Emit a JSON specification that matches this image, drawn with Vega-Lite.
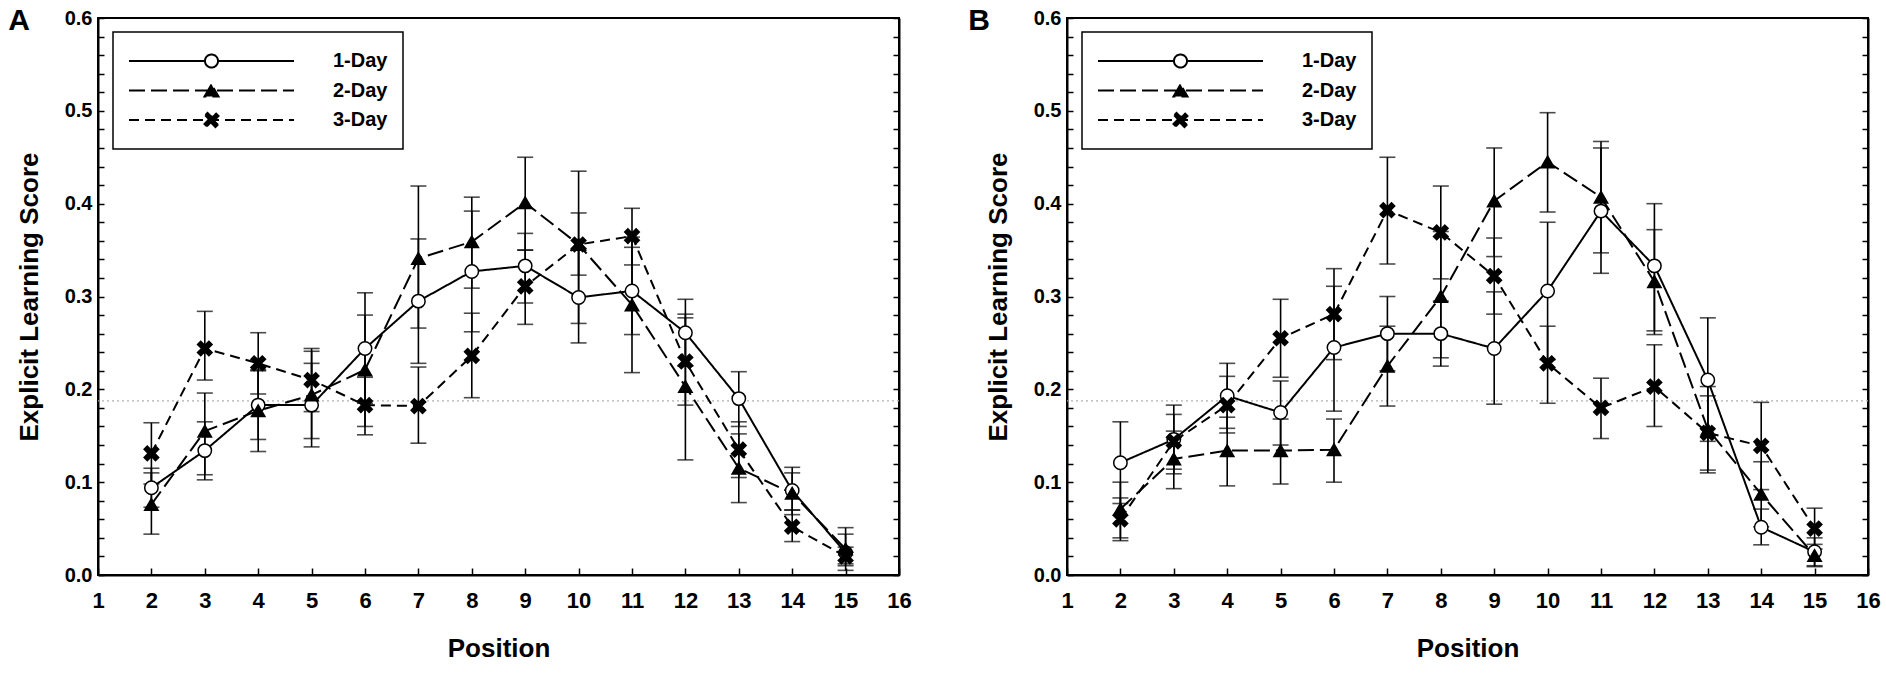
{
  "$schema": "https://vega.github.io/schema/vega-lite/v6.json",
  "padding": {"left": 7, "top": 5, "right": 0, "bottom": 0},
  "background": "white",
  "config": {
    "view": {"stroke": "black", "strokeWidth": 2},
    "axis": {
      "domainColor": "black", "domainWidth": 2, "tickColor": "black", "tickWidth": 1.5,
      "grid": false, "labelFont": "Liberation Sans", "labelFontWeight": "bold", "labelColor": "black",
      "titleFont": "Liberation Sans", "titleFontWeight": "bold", "titleFontSize": 26, "titleColor": "black",
      "labelOverlap": false, "labelFlush": false, "labelBound": false
    },
    "axisX": {"tickSize": -7, "labelPadding": 22, "labelFontSize": 22, "titlePadding": 24},
    "axisY": {"tickSize": -6, "labelPadding": 12, "labelFontSize": 20, "titlePadding": 22},
    "legend": {
      "orient": "none", "legendX": 15, "legendY": 14, "padding": 15,
      "strokeColor": "black", "strokeWidth": 1.5, "fillColor": "white",
      "labelFont": "Liberation Sans", "labelFontSize": 20, "labelFontWeight": "bold", "labelColor": "black",
      "labelOffset": 38, "rowPadding": 1.5, "symbolSize": 27225, "symbolStrokeWidth": 2,
      "symbolStrokeColor": "black", "clipHeight": 28
    }
  },
  "datasets": {
    "chance": [{"level": 0.1875}],
    "panelA": [
      {"group": "1-Day", "pos": 2, "mean": 0.094, "lo": 0.073, "hi": 0.115},
      {"group": "1-Day", "pos": 3, "mean": 0.134, "lo": 0.1025, "hi": 0.165},
      {"group": "1-Day", "pos": 4, "mean": 0.183, "lo": 0.146, "hi": 0.22},
      {"group": "1-Day", "pos": 5, "mean": 0.183, "lo": 0.138, "hi": 0.228},
      {"group": "1-Day", "pos": 6, "mean": 0.244, "lo": 0.185, "hi": 0.304},
      {"group": "1-Day", "pos": 7, "mean": 0.295, "lo": 0.228, "hi": 0.362},
      {"group": "1-Day", "pos": 8, "mean": 0.327, "lo": 0.262, "hi": 0.392},
      {"group": "1-Day", "pos": 9, "mean": 0.333, "lo": 0.293, "hi": 0.368},
      {"group": "1-Day", "pos": 10, "mean": 0.299, "lo": 0.25, "hi": 0.35},
      {"group": "1-Day", "pos": 11, "mean": 0.306, "lo": 0.259, "hi": 0.353},
      {"group": "1-Day", "pos": 12, "mean": 0.261, "lo": 0.225, "hi": 0.297},
      {"group": "1-Day", "pos": 13, "mean": 0.19, "lo": 0.16, "hi": 0.219},
      {"group": "1-Day", "pos": 14, "mean": 0.091, "lo": 0.065, "hi": 0.116},
      {"group": "1-Day", "pos": 15, "mean": 0.024, "lo": 0.005, "hi": 0.051},
      {"group": "2-Day", "pos": 2, "mean": 0.076, "lo": 0.044, "hi": 0.11},
      {"group": "2-Day", "pos": 3, "mean": 0.155, "lo": 0.108, "hi": 0.196},
      {"group": "2-Day", "pos": 4, "mean": 0.177, "lo": 0.133, "hi": 0.221},
      {"group": "2-Day", "pos": 5, "mean": 0.194, "lo": 0.147, "hi": 0.241},
      {"group": "2-Day", "pos": 6, "mean": 0.221, "lo": 0.16, "hi": 0.28},
      {"group": "2-Day", "pos": 7, "mean": 0.341, "lo": 0.266, "hi": 0.419},
      {"group": "2-Day", "pos": 8, "mean": 0.359, "lo": 0.309, "hi": 0.407},
      {"group": "2-Day", "pos": 9, "mean": 0.401, "lo": 0.35, "hi": 0.45},
      {"group": "2-Day", "pos": 10, "mean": 0.356, "lo": 0.323, "hi": 0.39},
      {"group": "2-Day", "pos": 11, "mean": 0.291, "lo": 0.218, "hi": 0.364},
      {"group": "2-Day", "pos": 12, "mean": 0.203, "lo": 0.124, "hi": 0.281},
      {"group": "2-Day", "pos": 13, "mean": 0.115, "lo": 0.078, "hi": 0.152},
      {"group": "2-Day", "pos": 14, "mean": 0.088, "lo": 0.07, "hi": 0.11},
      {"group": "2-Day", "pos": 15, "mean": 0.028, "lo": 0.012, "hi": 0.044},
      {"group": "3-Day", "pos": 2, "mean": 0.131, "lo": 0.098, "hi": 0.164},
      {"group": "3-Day", "pos": 3, "mean": 0.244, "lo": 0.21, "hi": 0.284},
      {"group": "3-Day", "pos": 4, "mean": 0.228, "lo": 0.195, "hi": 0.261},
      {"group": "3-Day", "pos": 5, "mean": 0.21, "lo": 0.176, "hi": 0.244},
      {"group": "3-Day", "pos": 6, "mean": 0.183, "lo": 0.151, "hi": 0.213},
      {"group": "3-Day", "pos": 7, "mean": 0.182, "lo": 0.142, "hi": 0.224},
      {"group": "3-Day", "pos": 8, "mean": 0.236, "lo": 0.191, "hi": 0.282},
      {"group": "3-Day", "pos": 9, "mean": 0.311, "lo": 0.27, "hi": 0.35},
      {"group": "3-Day", "pos": 10, "mean": 0.356, "lo": 0.271, "hi": 0.435},
      {"group": "3-Day", "pos": 11, "mean": 0.365, "lo": 0.334, "hi": 0.395},
      {"group": "3-Day", "pos": 12, "mean": 0.23, "lo": 0.183, "hi": 0.277},
      {"group": "3-Day", "pos": 13, "mean": 0.135, "lo": 0.105, "hi": 0.165},
      {"group": "3-Day", "pos": 14, "mean": 0.052, "lo": 0.036, "hi": 0.07},
      {"group": "3-Day", "pos": 15, "mean": 0.02, "lo": 0.01, "hi": 0.03}
    ],
    "panelB": [
      {"group": "1-Day", "pos": 2, "mean": 0.121, "lo": 0.077, "hi": 0.165},
      {"group": "1-Day", "pos": 3, "mean": 0.146, "lo": 0.109, "hi": 0.183},
      {"group": "1-Day", "pos": 4, "mean": 0.193, "lo": 0.158, "hi": 0.228},
      {"group": "1-Day", "pos": 5, "mean": 0.175, "lo": 0.14, "hi": 0.209},
      {"group": "1-Day", "pos": 6, "mean": 0.245, "lo": 0.1765, "hi": 0.311},
      {"group": "1-Day", "pos": 7, "mean": 0.26, "lo": 0.22, "hi": 0.3},
      {"group": "1-Day", "pos": 8, "mean": 0.26, "lo": 0.225, "hi": 0.295},
      {"group": "1-Day", "pos": 9, "mean": 0.244, "lo": 0.184, "hi": 0.305},
      {"group": "1-Day", "pos": 10, "mean": 0.306, "lo": 0.232, "hi": 0.38},
      {"group": "1-Day", "pos": 11, "mean": 0.392, "lo": 0.325, "hi": 0.46},
      {"group": "1-Day", "pos": 12, "mean": 0.333, "lo": 0.263, "hi": 0.4},
      {"group": "1-Day", "pos": 13, "mean": 0.21, "lo": 0.144, "hi": 0.277},
      {"group": "1-Day", "pos": 14, "mean": 0.0515, "lo": 0.0325, "hi": 0.071},
      {"group": "1-Day", "pos": 15, "mean": 0.025, "lo": 0.01, "hi": 0.04},
      {"group": "2-Day", "pos": 2, "mean": 0.071, "lo": 0.04, "hi": 0.1},
      {"group": "2-Day", "pos": 3, "mean": 0.125, "lo": 0.093, "hi": 0.155},
      {"group": "2-Day", "pos": 4, "mean": 0.134, "lo": 0.096, "hi": 0.17},
      {"group": "2-Day", "pos": 5, "mean": 0.134, "lo": 0.098, "hi": 0.168},
      {"group": "2-Day", "pos": 6, "mean": 0.135, "lo": 0.1, "hi": 0.168},
      {"group": "2-Day", "pos": 7, "mean": 0.225, "lo": 0.182, "hi": 0.268},
      {"group": "2-Day", "pos": 8, "mean": 0.3, "lo": 0.234, "hi": 0.37},
      {"group": "2-Day", "pos": 9, "mean": 0.403, "lo": 0.343, "hi": 0.46},
      {"group": "2-Day", "pos": 10, "mean": 0.445, "lo": 0.391, "hi": 0.498},
      {"group": "2-Day", "pos": 11, "mean": 0.407, "lo": 0.347, "hi": 0.467},
      {"group": "2-Day", "pos": 12, "mean": 0.316, "lo": 0.259, "hi": 0.372},
      {"group": "2-Day", "pos": 13, "mean": 0.157, "lo": 0.11, "hi": 0.203},
      {"group": "2-Day", "pos": 14, "mean": 0.087, "lo": 0.052, "hi": 0.122},
      {"group": "2-Day", "pos": 15, "mean": 0.021, "lo": 0.009, "hi": 0.033},
      {"group": "3-Day", "pos": 2, "mean": 0.06, "lo": 0.037, "hi": 0.083},
      {"group": "3-Day", "pos": 3, "mean": 0.144, "lo": 0.114, "hi": 0.173},
      {"group": "3-Day", "pos": 4, "mean": 0.183, "lo": 0.153, "hi": 0.214},
      {"group": "3-Day", "pos": 5, "mean": 0.255, "lo": 0.213, "hi": 0.297},
      {"group": "3-Day", "pos": 6, "mean": 0.281, "lo": 0.232, "hi": 0.33},
      {"group": "3-Day", "pos": 7, "mean": 0.393, "lo": 0.335, "hi": 0.45},
      {"group": "3-Day", "pos": 8, "mean": 0.369, "lo": 0.319, "hi": 0.419},
      {"group": "3-Day", "pos": 9, "mean": 0.322, "lo": 0.281, "hi": 0.363},
      {"group": "3-Day", "pos": 10, "mean": 0.228, "lo": 0.185, "hi": 0.268},
      {"group": "3-Day", "pos": 11, "mean": 0.18, "lo": 0.147, "hi": 0.212},
      {"group": "3-Day", "pos": 12, "mean": 0.203, "lo": 0.16, "hi": 0.248},
      {"group": "3-Day", "pos": 13, "mean": 0.153, "lo": 0.113, "hi": 0.193},
      {"group": "3-Day", "pos": 14, "mean": 0.139, "lo": 0.092, "hi": 0.186},
      {"group": "3-Day", "pos": 15, "mean": 0.05, "lo": 0.028, "hi": 0.072}
    ]
  },
  "spacing": 54,
  "resolve": {"scale": {"strokeDash": "independent", "shape": "independent", "fill": "independent"}},
  "hconcat": [
    {
      "width": 801, "height": 557,
      "title": {"text": "A", "anchor": "start", "font": "Liberation Sans", "fontSize": 30, "fontWeight": "bold", "color": "black", "offset": 0, "dy": 28, "dx": -8},
      "data": {"name": "panelA"},
      "resolve": {"axis": {"y": "independent"}},
      "layer": [
        {
          "data": {"name": "chance"},
          "mark": {"type": "rule", "color": "#b0b0b0", "strokeDash": [2, 3], "strokeWidth": 1.3},
          "encoding": {
            "y": {"field": "level", "type": "quantitative", "scale": {"domain": [0, 0.6], "nice": false},
              "axis": {"orient": "right", "labels": false, "title": null,
                "values": [0,0.02,0.04,0.06,0.08,0.1,0.12,0.14,0.16,0.18,0.2,0.22,0.24,0.26,0.28,0.3,0.32,0.34,0.36,0.38,0.4,0.42,0.44,0.46,0.48,0.5,0.52,0.54,0.56,0.58,0.6]}}
          }
        },
        {
          "mark": {"type": "errorbar", "ticks": true, "size": 16, "thickness": 1.6, "color": "black"},
          "encoding": {
            "x": {"field": "pos", "type": "quantitative", "title": "Position", "scale": {"domain": [1, 16], "nice": false, "zero": false},
              "axis": {"values": [1,2,3,4,5,6,7,8,9,10,11,12,13,14,15,16], "format": "d"}},
            "y": {"field": "lo", "type": "quantitative", "title": "Explicit Learning Score", "scale": {"domain": [0, 0.6], "nice": false},
              "axis": {"orient": "left",
                "values": [0,0.02,0.04,0.06,0.08,0.1,0.12,0.14,0.16,0.18,0.2,0.22,0.24,0.26,0.28,0.3,0.32,0.34,0.36,0.38,0.4,0.42,0.44,0.46,0.48,0.5,0.52,0.54,0.56,0.58,0.6],
                "labelExpr": "round(datum.value*50) % 5 === 0 ? format(datum.value, '.1f') : ''"}},
            "y2": {"field": "hi"}
          }
        },
        {
          "mark": {"type": "line", "color": "black", "strokeWidth": 2},
          "encoding": {
            "x": {"field": "pos", "type": "quantitative", "title": "Position"},
            "y": {"field": "mean", "type": "quantitative", "axis": null},
            "strokeDash": {"field": "group", "type": "nominal",
              "scale": {"domain": ["1-Day", "2-Day", "3-Day"], "range": [[1, 0], [16, 6], [10, 6]]},
              "legend": {"title": null,
                "encode": {"symbols": {"update": {
                  "shape": {"signal": "datum.value === '1-Day' ? 'M-1,0H-0.079M0.079,0H1M0.079,0A0.079 0.079 0 1 1 -0.079,0A0.079 0.079 0 1 1 0.079,0' : datum.value === '2-Day' ? 'M-1,0H1M0,-0.074L-0.085,0.074L0.085,0.074Z' : 'M-1,0H1M0.048,-0.085L0.085,-0.048L0.037,0L0.085,0.048L0.048,0.085L0,0.037L-0.048,0.085L-0.085,0.048L-0.037,0L-0.085,-0.048L-0.048,-0.085L0,-0.037Z'"},
                  "fill": {"signal": "datum.value === '1-Day' ? 'white' : 'black'"},
                  "stroke": {"value": "black"},
                  "strokeWidth": {"value": 2}
                }}}}}
          }
        },
        {
          "mark": {"type": "point", "filled": true, "size": 180, "stroke": "black", "strokeWidth": 1.5, "opacity": 1},
          "encoding": {
            "x": {"field": "pos", "type": "quantitative", "title": "Position"},
            "y": {"field": "mean", "type": "quantitative", "axis": null},
            "shape": {"field": "group", "type": "nominal", "legend": null,
              "scale": {"range": ["circle", "triangle-up", "M0.611,-1.086L1.086,-0.611L0.475,0L1.086,0.611L0.611,1.086L0,0.475L-0.611,1.086L-1.086,0.611L-0.475,0L-1.086,-0.611L-0.611,-1.086L0,-0.475Z"]}},
            "fill": {"field": "group", "type": "nominal", "legend": null, "scale": {"range": ["white", "black", "black"]}}
          }
        }
      ]
    },
    {
      "width": 801, "height": 557,
      "title": {"text": "B", "anchor": "start", "font": "Liberation Sans", "fontSize": 30, "fontWeight": "bold", "color": "black", "offset": 0, "dy": 28, "dx": -17},
      "data": {"name": "panelB"},
      "resolve": {"axis": {"y": "independent"}},
      "layer": [
        {
          "data": {"name": "chance"},
          "mark": {"type": "rule", "color": "#b0b0b0", "strokeDash": [2, 3], "strokeWidth": 1.3},
          "encoding": {
            "y": {"field": "level", "type": "quantitative", "scale": {"domain": [0, 0.6], "nice": false},
              "axis": {"orient": "right", "labels": false, "title": null,
                "values": [0,0.02,0.04,0.06,0.08,0.1,0.12,0.14,0.16,0.18,0.2,0.22,0.24,0.26,0.28,0.3,0.32,0.34,0.36,0.38,0.4,0.42,0.44,0.46,0.48,0.5,0.52,0.54,0.56,0.58,0.6]}}
          }
        },
        {
          "mark": {"type": "errorbar", "ticks": true, "size": 16, "thickness": 1.6, "color": "black"},
          "encoding": {
            "x": {"field": "pos", "type": "quantitative", "title": "Position", "scale": {"domain": [1, 16], "nice": false, "zero": false},
              "axis": {"values": [1,2,3,4,5,6,7,8,9,10,11,12,13,14,15,16], "format": "d"}},
            "y": {"field": "lo", "type": "quantitative", "title": "Explicit Learning Score", "scale": {"domain": [0, 0.6], "nice": false},
              "axis": {"orient": "left",
                "values": [0,0.02,0.04,0.06,0.08,0.1,0.12,0.14,0.16,0.18,0.2,0.22,0.24,0.26,0.28,0.3,0.32,0.34,0.36,0.38,0.4,0.42,0.44,0.46,0.48,0.5,0.52,0.54,0.56,0.58,0.6],
                "labelExpr": "round(datum.value*50) % 5 === 0 ? format(datum.value, '.1f') : ''"}},
            "y2": {"field": "hi"}
          }
        },
        {
          "mark": {"type": "line", "color": "black", "strokeWidth": 2},
          "encoding": {
            "x": {"field": "pos", "type": "quantitative", "title": "Position"},
            "y": {"field": "mean", "type": "quantitative", "axis": null},
            "strokeDash": {"field": "group", "type": "nominal",
              "scale": {"domain": ["1-Day", "2-Day", "3-Day"], "range": [[1, 0], [16, 6], [10, 6]]},
              "legend": {"title": null,
                "encode": {"symbols": {"update": {
                  "shape": {"signal": "datum.value === '1-Day' ? 'M-1,0H-0.079M0.079,0H1M0.079,0A0.079 0.079 0 1 1 -0.079,0A0.079 0.079 0 1 1 0.079,0' : datum.value === '2-Day' ? 'M-1,0H1M0,-0.074L-0.085,0.074L0.085,0.074Z' : 'M-1,0H1M0.048,-0.085L0.085,-0.048L0.037,0L0.085,0.048L0.048,0.085L0,0.037L-0.048,0.085L-0.085,0.048L-0.037,0L-0.085,-0.048L-0.048,-0.085L0,-0.037Z'"},
                  "fill": {"signal": "datum.value === '1-Day' ? 'white' : 'black'"},
                  "stroke": {"value": "black"},
                  "strokeWidth": {"value": 2}
                }}}}}
          }
        },
        {
          "mark": {"type": "point", "filled": true, "size": 180, "stroke": "black", "strokeWidth": 1.5, "opacity": 1},
          "encoding": {
            "x": {"field": "pos", "type": "quantitative", "title": "Position"},
            "y": {"field": "mean", "type": "quantitative", "axis": null},
            "shape": {"field": "group", "type": "nominal", "legend": null,
              "scale": {"range": ["circle", "triangle-up", "M0.611,-1.086L1.086,-0.611L0.475,0L1.086,0.611L0.611,1.086L0,0.475L-0.611,1.086L-1.086,0.611L-0.475,0L-1.086,-0.611L-0.611,-1.086L0,-0.475Z"]}},
            "fill": {"field": "group", "type": "nominal", "legend": null, "scale": {"range": ["white", "black", "black"]}}
          }
        }
      ]
    }
  ]
}
